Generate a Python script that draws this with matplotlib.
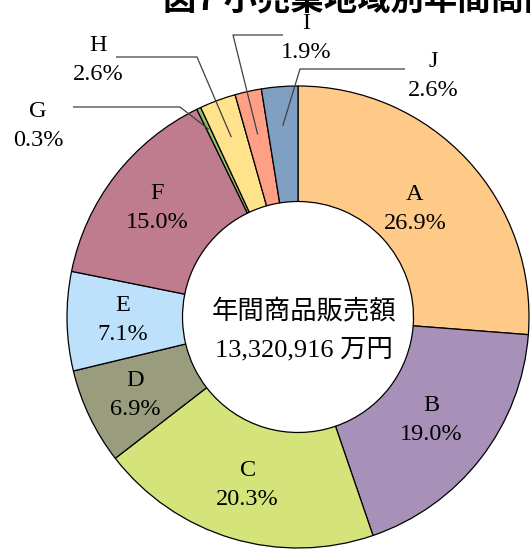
import matplotlib
matplotlib.use("Agg")
import matplotlib.pyplot as plt
import numpy as np

# ---- data ----
categories = ["A", "B", "C", "D", "E", "F", "G", "H", "I", "J"]
values = [26.9, 19.0, 20.3, 6.9, 7.1, 15.0, 0.3, 2.6, 1.9, 2.6]
colors = ["#FFC987", "#A791B9", "#D5E37B", "#9A9C7E", "#BDE0FB",
          "#BE7C8E", "#9BBF6A", "#FFE38C", "#FFA086", "#7FA0C2"]
title = "図7 小売業地域別年間商品販売額"
center_lines = ["年間商品販売額", "13,320,916 万円"]

SERIF = ["Liberation Serif", "Noto Sans CJK JP", "DejaVu Sans"]

W, H = 530, 550
CX, CY, R = 298, 317, 231  # pixel centre / radius

fig = plt.figure(figsize=(W / 100, H / 100), dpi=100)
ax = fig.add_axes([0, 0, 1, 1])


def px(x, y):
    return (x - CX) / R, (CY - y) / R


wedges, _ = ax.pie(values, colors=colors, startangle=90, counterclock=False,
                   radius=1.0,
                   wedgeprops=dict(width=0.5, edgecolor="black", linewidth=0.9))
ax.set_xlim(-CX / R, (W - CX) / R)
ax.set_ylim(-(H - CY) / R, CY / R)
ax.set_aspect("equal")
ax.axis("off")

LFS = 17.5
LSP = 1.5

# inside labels for large slices
inner_r = {"A": 0.69, "B": 0.73, "C": 0.76, "D": 0.78, "E": 0.76, "F": 0.77}
for w, cat, v in zip(wedges, categories, values):
    mid = np.deg2rad((w.theta1 + w.theta2) / 2)
    if cat in inner_r:
        r = inner_r[cat]
        ax.text(r * np.cos(mid), r * np.sin(mid), f"{cat}\n{v:.1f}%",
                ha="center", va="center", fontsize=LFS, family=SERIF,
                linespacing=LSP)

# outside labels with leader lines (label centre, elbow, far end of horizontal, radius of anchor)
outer = {
    "G": dict(text=(38, 126), elbow=(180, 107), hend=(73, 107), r=0.90),
    "H": dict(text=(98, 60), elbow=(197, 57), hend=(116, 57), r=0.83),
    "I": dict(text=(306, 38), elbow=(233, 35), hend=(283, 35), r=0.81),
    "J": dict(text=(433, 76), elbow=(300, 69), hend=(405, 69), r=0.83),
}
for w, cat, v in zip(wedges, categories, values):
    if cat not in outer:
        continue
    o = outer[cat]
    mid = np.deg2rad((w.theta1 + w.theta2) / 2)
    ax_, ay_ = o["r"] * np.cos(mid), o["r"] * np.sin(mid)
    ex, ey = px(*o["elbow"])
    hx, hy = px(*o["hend"])
    ax.plot([ax_, ex, hx], [ay_, ey, hy], color="#404040", lw=0.9,
            solid_capstyle="butt")
    tx, ty = px(*o["text"])
    ax.text(tx, ty, f"{cat}\n{v:.1f}%", ha="center", va="center",
            fontsize=LFS, family=SERIF, linespacing=LSP)

# centre text
ccx, ccy = px(CX + 6, 330)
ax.text(ccx, ccy, "\n".join(center_lines), ha="center", va="center",
        fontsize=19, family=SERIF, linespacing=1.8)

# title (partially cut off at top, as in the reference)
fig.text(163 / W, 1 - 10 / H, title, ha="left", va="baseline",
         fontsize=24, fontweight="bold",
         family=["Noto Sans CJK JP", "DejaVu Sans"])

fig.savefig("out.png", dpi=100)
